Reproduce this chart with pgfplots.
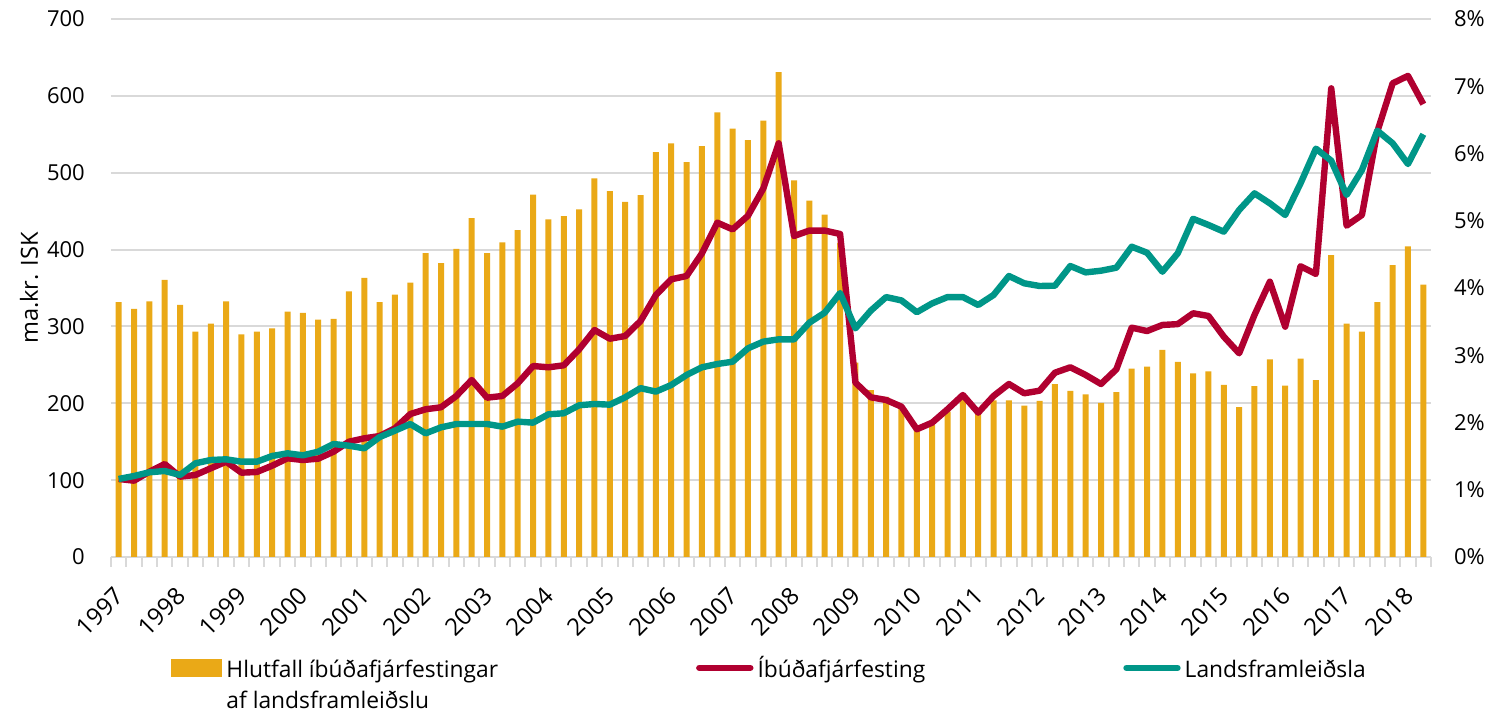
\documentclass[border=0pt]{standalone}
\usepackage{fontspec}
\setmainfont{Open Sans}
\usepackage{pgfplots}
\usepackage{pgfplotstable}
\pgfplotsset{compat=1.18}
\definecolor{barc}{RGB}{234,169,23}
\definecolor{redc}{RGB}{176,0,48}
\definecolor{grnc}{RGB}{0,150,136}
\definecolor{gridc}{RGB}{217,217,217}

% x = quarter index (0 = 1997 Q1), bar = share of GDP (%), red/green = ma.kr. ISK
\pgfplotstableread{
x bar red green
0 3.79 101.5 101.5
1 3.69 99.3 105.4
2 3.80 111.0 110.2
3 4.12 121.0 111.9
4 3.75 104.5 106.7
5 3.35 106.7 121.9
6 3.47 115.4 126.2
7 3.80 124.0 127.1
8 3.31 109.7 124.0
9 3.35 110.6 124.0
10 3.40 118.8 131.4
11 3.65 128.4 134.9
12 3.63 126.2 132.3
13 3.53 127.9 137.0
14 3.54 137.0 147.0
15 3.95 150.0 144.8
16 4.15 154.4 141.4
17 3.79 157.4 156.0
18 3.90 167.4 164.4
19 4.08 186.0 173.0
20 4.52 192.2 160.9
21 4.37 194.8 168.7
22 4.58 209.5 173.0
23 5.04 230.3 173.0
24 4.52 207.3 173.0
25 4.68 209.5 169.6
26 4.86 226.0 176.1
27 5.39 248.5 174.8
28 5.02 246.8 185.7
29 5.07 249.4 187.0
30 5.17 270.2 197.4
31 5.63 295.3 199.1
32 5.44 284.0 198.2
33 5.28 287.5 207.8
34 5.38 307.0 219.7
35 6.02 340.9 215.2
36 6.15 361.3 223.8
37 5.87 365.6 236.8
38 6.11 395.1 246.8
39 6.61 435.0 251.1
40 6.37 426.3 254.1
41 6.20 444.0 271.5
42 6.49 479.6 280.2
43 7.21 538.3 283.2
44 5.60 417.7 283.2
45 5.30 424.7 304.9
46 5.09 424.7 317.9
47 4.67 420.3 343.4
48 2.89 226.9 297.5
49 2.48 207.8 320.5
50 2.38 204.3 338.2
51 2.24 195.6 333.8
52 1.89 166.2 318.5
53 1.97 174.8 330.0
54 2.16 192.2 338.2
55 2.35 210.8 338.2
56 2.14 187.8 327.9
57 2.33 209.5 340.9
58 2.33 225.1 365.6
59 2.25 213.0 356.1
60 2.32 216.4 352.6
61 2.57 239.8 353.0
62 2.47 246.8 378.6
63 2.42 236.8 370.3
64 2.29 225.1 372.5
65 2.45 244.2 376.4
66 2.80 298.4 403.7
67 2.83 294.0 395.9
68 3.08 301.9 371.2
69 2.90 303.0 395.1
70 2.73 317.1 440.0
71 2.76 313.6 432.0
72 2.56 286.7 423.3
73 2.23 265.0 451.5
74 2.54 314.9 473.2
75 2.94 358.2 460.2
76 2.55 299.7 445.0
77 2.95 378.3 486.2
78 2.63 368.3 531.3
79 4.49 609.8 515.7
80 3.47 431.1 471.0
81 3.35 445.0 503.5
82 3.79 553.4 554.7
83 4.34 616.3 538.3
84 4.62 626.0 511.3
85 4.05 589.2 550.0
}\datatable

\newcommand\legtxt[1]{\raisebox{0pt}[\ht\strutbox][\dp\strutbox]{#1}}

\begin{document}
\begin{tikzpicture}[font=\fontsize{11}{16}\selectfont]
\begin{axis}[
  name=ax,
  scale only axis, width=660pt, height=269pt,
  xmin=-0.5, xmax=85.5, ymin=0, ymax=700,
  axis x line*=bottom, axis y line*=left,
  x axis line style={gridc, line width=1pt, -},
  y axis line style={draw=none},
  xtick={0,4,...,84},
  xticklabels={1997,1998,1999,2000,2001,2002,2003,2004,2005,2006,2007,2008,2009,2010,2011,2012,2013,2014,2015,2016,2017,2018},
  major x tick style={draw=none},
  minor xtick={-0.5,0.5,...,85.5},
  minor x tick style={gridc, line width=1pt},
  minor tick length=5pt,
  tick align=outside,
  xticklabel style={xshift=1.2pt, yshift=-12.5pt, rotate=45, anchor=east, inner sep=1pt,
    font=\fontsize{12}{16}\selectfont},
  ytick={0,100,...,700},
  ytick style={draw=none},
  yticklabel style={xshift=-5.3pt},
  ymajorgrids, grid style={gridc, line width=1pt},
  ylabel={ma.kr. ISK},
  ylabel style={at={(axis description cs:-0.062,0.5)}, anchor=center,
    font=\fontsize{11.8}{16}\selectfont},
  /pgf/number format/assume math mode=true,
  /pgf/number format/1000 sep={},
  legend columns=3,
  legend cell align=left,
  legend style={draw=none, fill=none, at={(axis description cs:0.0455,-0.175)}, anchor=north west,
    inner sep=0pt, font=\fontsize{11.4}{15.5}\selectfont,
    /tikz/every even column/.append style={column sep=97pt}},
]
\addplot[ybar, bar width=3pt, fill=barc, draw=none,
  legend image code/.code={\fill[barc] (0pt,-4.5pt) rectangle (25.5pt,4.5pt);}]
  table[x=x, y expr=\thisrow{bar}*87.5] {\datatable};
\addlegendentry{\legtxt{\vtop{\hbox{Hlutfall íbúðafjárfestingar}\hbox{af landsframleiðslu}}}}
\addplot[redc, line width=3.2pt, line join=round,
  legend image code/.code={\draw[redc, line width=3.2pt, line cap=round] (0pt,0pt) -- (25.5pt,0pt);}]
  table[x=x, y=red] {\datatable};
\addlegendentry{\legtxt{Íbúðafjárfesting}}
\addplot[grnc, line width=3.2pt, line join=round,
  legend image code/.code={\draw[grnc, line width=3.2pt, line cap=round] (0pt,0pt) -- (25.5pt,0pt);}]
  table[x=x, y=green] {\datatable};
\addlegendentry{\legtxt{Landsframleiðsla}}
\end{axis}
\begin{axis}[
  scale only axis, width=660pt, height=269pt,
  xmin=-0.5, xmax=85.5, ymin=0, ymax=8,
  hide x axis,
  axis y line*=right,
  y axis line style={draw=none},
  ytick={0,1,...,8},
  ytick style={draw=none},
  yticklabel={\pgfmathprintnumber{\tick}\%},
  yticklabel style={anchor=west, xshift=8pt},
  /pgf/number format/assume math mode=true,
]
\end{axis}
\pgfresetboundingbox
\path (ax.south west) ++(-55.5pt,-79pt) rectangle ++(747pt,357.5pt);
\end{tikzpicture}
\end{document}
